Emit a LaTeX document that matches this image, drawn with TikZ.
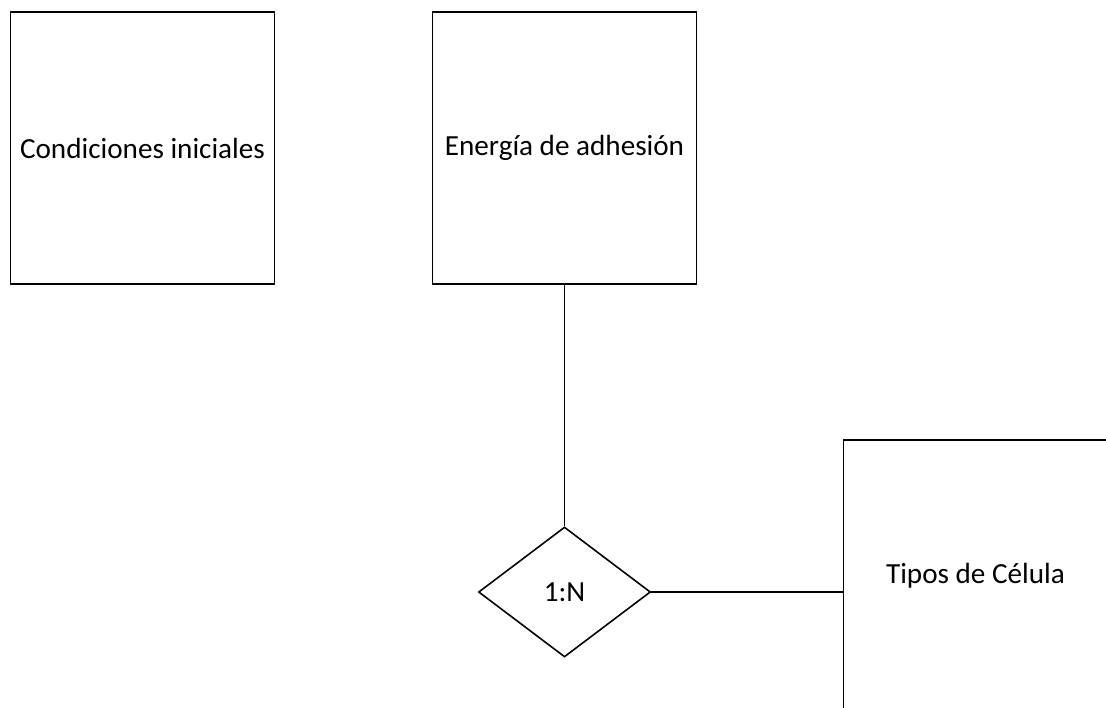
\documentclass[tikz,border=0pt]{standalone}
\usepackage{fontspec}
\setmainfont{Carlito}
\usetikzlibrary{shapes,shapes.geometric,positioning}
\tikzset{entidad/.style={draw, rectangle, minimum width=5.28cm, minimum height=5.44cm, inner sep=0pt, font=\fontsize{16.6}{20}\selectfont}}
\tikzstyle{rel}=[draw, diamond, minimum width=3.44cm, minimum height=2.6cm, inner sep=0pt, font=\fontsize{16.6}{20}\selectfont]

\begin{document}
\begin{tikzpicture}[line width=0.9pt]
\useasboundingbox (0,0) rectangle (22.12,-14.14);
\clip (0,0) rectangle (22.12,-14.14);
\node[entidad] at (2.85,-2.96) (E1){Condiciones iniciales};
\node[entidad] at (11.29,-2.96) (E2){Energía de adhesión};
\node[rel] at (11.29,-11.84) (R1){1:N};
\node[entidad] at (19.51,-11.52) (E3){Tipos de Célula};

\path (E2) edge (R1)
	(R1) edge (R1 -| E3.west)
;
\end{tikzpicture}
\end{document}
